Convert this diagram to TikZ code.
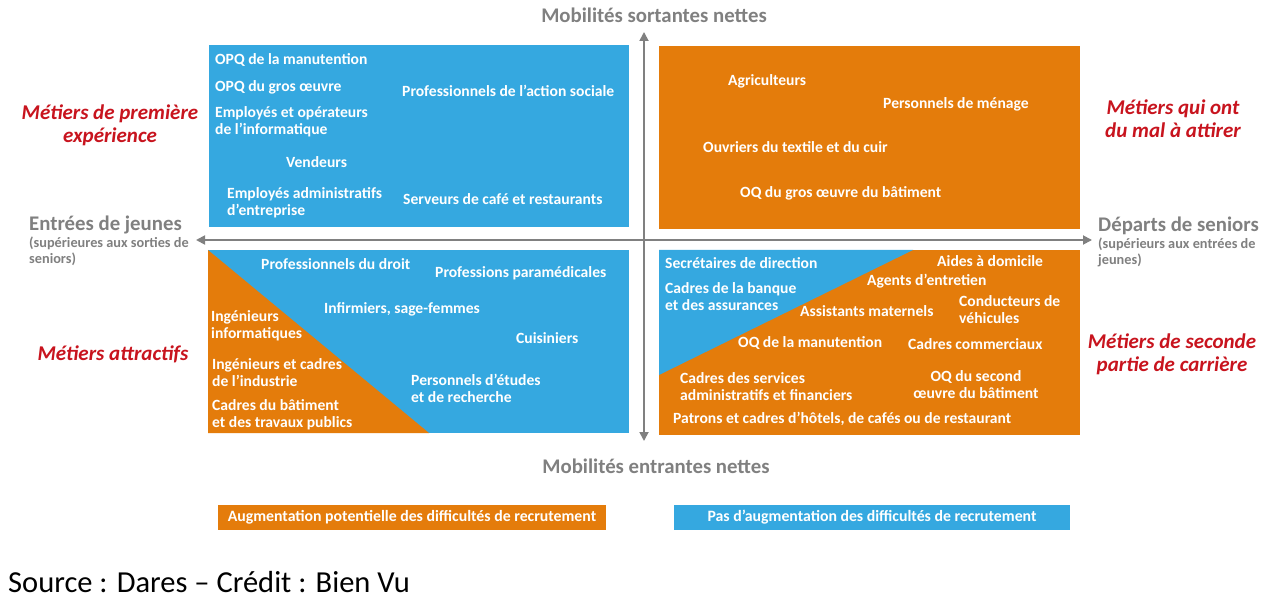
\documentclass[tikz,border=0pt]{standalone}
\usepackage{fontspec}
\setmainfont{Carlito}
\usetikzlibrary{arrows.meta}
\definecolor{cblue}{HTML}{35A8E0}
\definecolor{corange}{HTML}{E47C0B}
\definecolor{cred}{HTML}{C8141E}
\definecolor{cgray}{HTML}{808080}
\begin{document}
\begin{tikzpicture}[x=1pt,y=-1pt,
  lbl/.style={text=white, font=\bfseries\fontsize{15.6}{17}\selectfont, anchor=west, inner sep=0pt, align=left},
  lblc/.style={lbl, anchor=center, align=center},
  red/.style={text=cred, font=\bfseries\itshape\fontsize{21}{23}\selectfont, inner sep=0pt, align=center},
  axis/.style={text=cgray, font=\bfseries\fontsize{20.8}{22}\selectfont, inner sep=0pt},
  sub/.style={text=cgray, font=\bfseries\fontsize{14.3}{16}\selectfont, inner sep=0pt, anchor=west, align=left},
  arr/.style={draw=cgray, line width=1.8pt, -{Triangle[length=9pt,width=9pt]}},
  legtxt/.style={text=white, font=\bfseries\fontsize{15.8}{16}\selectfont, inner sep=0pt}
]
\useasboundingbox (0,0) rectangle (1272,604);
\fill[white] (0,0) rectangle (1272,604);

% quadrant boxes
\fill[cblue] (209,45) rectangle (629,227);
\fill[corange] (659,46) rectangle (1080,229);
\fill[cblue] (208,250) rectangle (629,433);
\fill[corange] (208,250) -- (429,433) -- (208,433) -- cycle;
\fill[corange] (659,250) rectangle (1080,435);
\fill[cblue] (659,250) -- (913,250) -- (659,375) -- cycle;

% axes
\coordinate (vtop) at (644,32);
\coordinate (vbot) at (644,441);
\coordinate (hleft) at (196,240);
\coordinate (hright) at (1092,240);
\coordinate (orig) at (644,240);
\draw[arr] (orig) -- (vtop);
\draw[arr] (orig) -- (vbot);
\draw[arr] (orig) -- (hleft);
\draw[arr] (orig) -- (hright);

% axis labels
\node[axis] (mst) at (654,15) {Mobilités sortantes nettes};
\node[axis] (men) at (656,466) {Mobilités entrantes nettes};
\node[axis, anchor=west] (ej) at (29,225) {Entrées de jeunes};
\node[sub] (ejs) at (29,251) {(supérieures aux sorties de\\seniors)};
\node[axis, anchor=west] (ds) at (1098,226) {Départs de seniors};
\node[sub] (dss) at (1098,252) {(supérieurs aux entrées de\\jeunes)};

% red labels
\node[red] (r1) at (110,125) {Métiers de première\\expérience};
\node[red] (r2) at (1173,119) {Métiers qui ont\\du mal à attirer};
\node[red] (r3) at (113,354) {Métiers attractifs};
\node[red] (r4) at (1172,354) {Métiers de seconde\\partie de carrière};

% top-left
\node[lbl] (a1) at (215,60) {OPQ de la manutention};
\node[lbl] (a2) at (215,87) {OPQ du gros œuvre};
\node[lbl] (a3) at (215,121.5) {Employés et opérateurs\\de l’informatique};
\node[lbl] (a4) at (286,162) {Vendeurs};
\node[lbl] (a5) at (227,202.5) {Employés administratifs\\d’entreprise};
\node[lbl] (a6) at (402,91) {Professionnels de l’action sociale};
\node[lbl] (a7) at (403,199) {Serveurs de café et restaurants};

% top-right
\node[lbl] (b1) at (728,81) {Agriculteurs};
\node[lbl] (b2) at (883,104) {Personnels de ménage};
\node[lbl] (b3) at (703,147) {Ouvriers du textile et du cuir};
\node[lbl] (b4) at (740,193) {OQ du gros œuvre du bâtiment};

% bottom-left
\node[lbl] (c1) at (261,264) {Professionnels du droit};
\node[lbl] (c2) at (435,273) {Professions paramédicales};
\node[lbl] (c3) at (324,309) {Infirmiers, sage-femmes};
\node[lbl] (c4) at (516,338) {Cuisiniers};
\node[lbl] (c5) at (211,325.5) {Ingénieurs\\informatiques};
\node[lbl] (c6) at (212,372.5) {Ingénieurs et cadres\\de l’industrie};
\node[lbl] (c7) at (411,388.5) {Personnels d’études\\et de recherche};
\node[lbl] (c8) at (212,414.5) {Cadres du bâtiment\\et des travaux publics};

% bottom-right
\node[lbl] (d1) at (665,263) {Secrétaires de direction};
\node[lbl] (d2) at (665,296.5) {Cadres de la banque\\et des assurances};
\node[lbl] (d3) at (937,261) {Aides à domicile};
\node[lbl] (d4) at (867,281) {Agents d’entretien};
\node[lbl] (d5) at (800,311) {Assistants maternels};
\node[lbl] (d6) at (959,309.5) {Conducteurs de\\véhicules};
\node[lbl] (d7) at (738,343) {OQ de la manutention};
\node[lbl] (d8) at (908,344) {Cadres commerciaux};
\node[lbl] (d9) at (680,386.5) {Cadres des services\\administratifs et financiers};
\node[lblc] (d10) at (976,385) {OQ du second\\œuvre du bâtiment};
\node[lbl] (d11) at (673,419) {Patrons et cadres d’hôtels, de cafés ou de restaurant};

% legend
\fill[corange] (218,505) rectangle (606,530);
\node[legtxt] (l1) at (412,517.5) {Augmentation potentielle des difficultés de recrutement};
\fill[cblue] (674,505) rectangle (1070,530);
\node[legtxt] (l2) at (872,517.5) {Pas d’augmentation des difficultés de recrutement};

% source
\node[font=\fontsize{30.5}{34}\selectfont, anchor=west, inner sep=0pt] (src) at (8,582) {Source : Dares – Crédit : Bien Vu};
\end{tikzpicture}
\end{document}
